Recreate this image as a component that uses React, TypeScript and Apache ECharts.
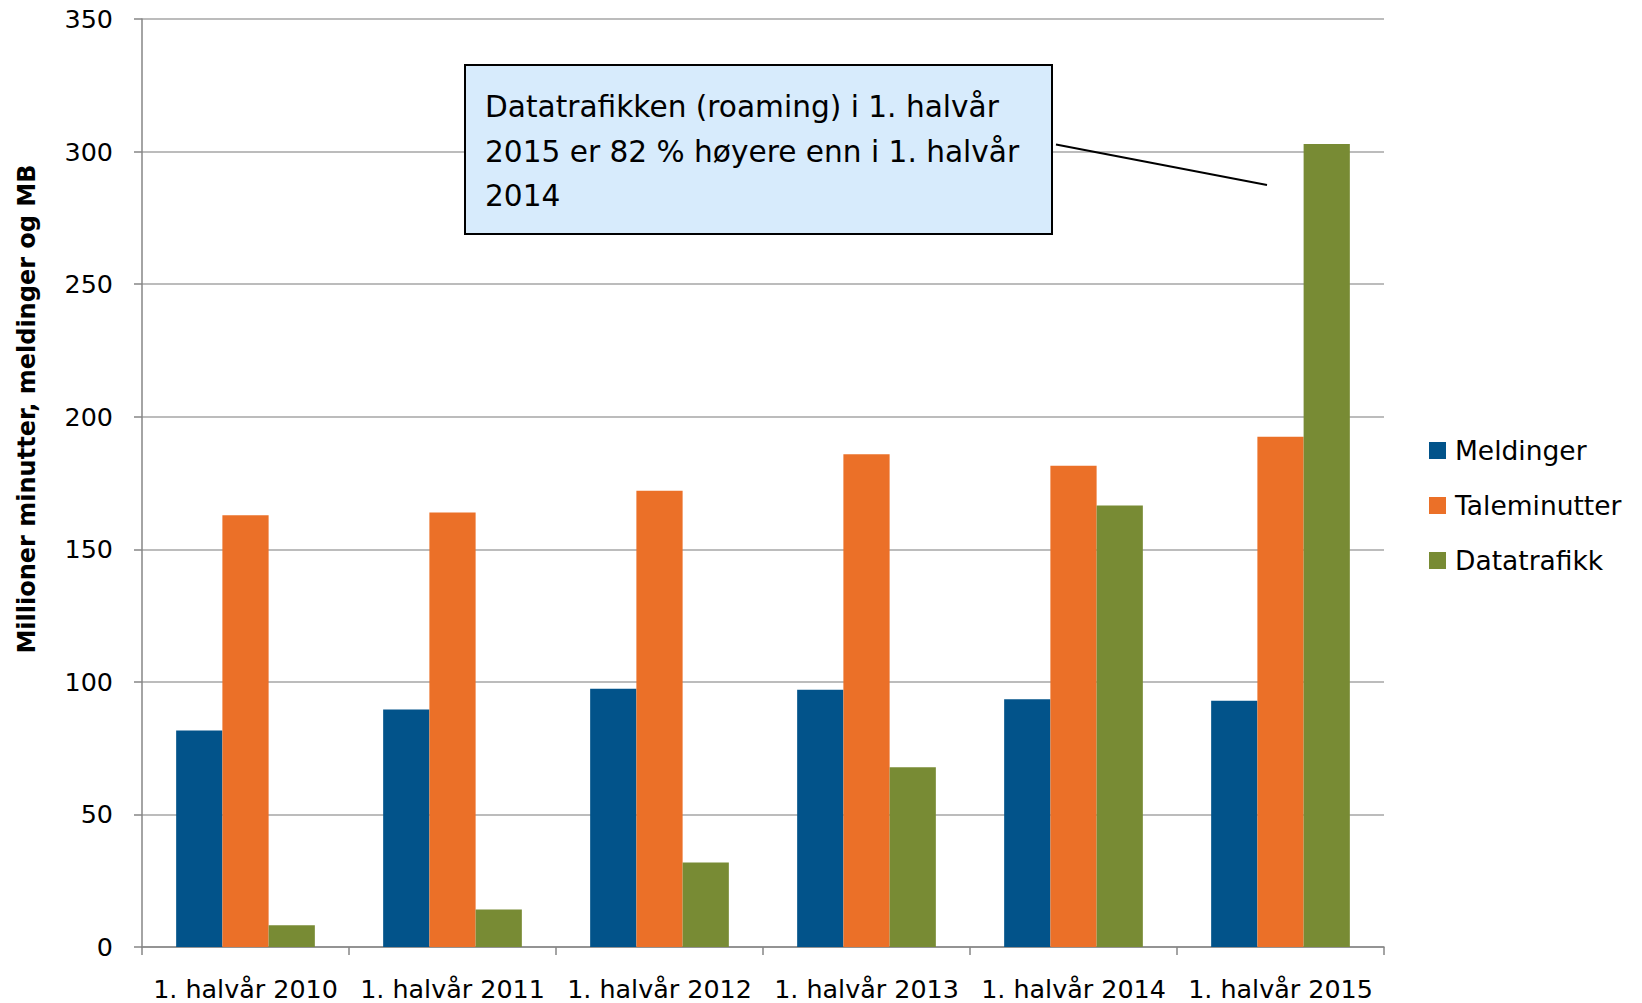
import React, { useEffect, useRef } from "react";
import * as echarts from "echarts";

const categories = [
  "1. halvår 2010",
  "1. halvår 2011",
  "1. halvår 2012",
  "1. halvår 2013",
  "1. halvår 2014",
  "1. halvår 2015",
];
const meldinger = [81.7, 89.6, 97.4, 97.0, 93.4, 92.9];
const taleminutter = [162.8, 163.9, 172.1, 185.8, 181.5, 192.4];
const datatrafikk = [8.2, 14.1, 31.9, 67.8, 166.5, 302.9];
const yTicks = { min: 0, max: 350, interval: 50 };
const yTitle = "Millioner minutter, meldinger og MB";
const annotationLines = [
  "Datatrafikken (roaming) i 1. halvår",
  "2015 er 82 % høyere enn i 1. halvår",
  "2014",
];

const FONT = "DejaVu Sans";

export default function App() {
  const ref = useRef<HTMLDivElement>(null);
  useEffect(() => {
    if (!ref.current) return;
    const chart = echarts.init(ref.current, undefined, { renderer: "svg" });
    const mkSeries = (name: string, data: number[], color: string) => ({
      name,
      type: "bar",
      data,
      barGap: "0%",
      barCategoryGap: "33%",
      itemStyle: { color },
    });
    chart.setOption({
      animation: false,
      backgroundColor: "#ffffff",
      grid: { left: 142, right: 258, top: 19, bottom: 56, containLabel: false },
      legend: {
        orient: "vertical",
        left: 1429,
        top: 437,
        padding: 0,
        itemWidth: 17,
        itemHeight: 17,
        itemGap: 28,
        icon: "rect",
        textStyle: { fontFamily: FONT, fontSize: 26.5, color: "#000", lineHeight: 26.5, padding: [0, 0, 0, 4] },
        data: ["Meldinger", "Taleminutter", "Datatrafikk"],
      },
      xAxis: {
        type: "category",
        data: categories,
        axisLine: { lineStyle: { color: "#868686", width: 1.5 } },
        axisTick: { show: true, length: 8, lineStyle: { color: "#868686", width: 1.5 } },
        axisLabel: { fontFamily: FONT, fontSize: 25.4, color: "#000", margin: 29, interval: 0 },
      },
      yAxis: {
        type: "value",
        min: yTicks.min,
        max: yTicks.max,
        interval: yTicks.interval,
        axisLine: { show: true, lineStyle: { color: "#868686", width: 1.5 } },
        axisTick: { show: true, length: 8, lineStyle: { color: "#868686", width: 1.5 } },
        axisLabel: { fontFamily: FONT, fontSize: 25.4, color: "#000", margin: 29 },
        splitLine: { lineStyle: { color: "#a6a6a6", width: 1.5 } },
      },
      series: [
        mkSeries("Meldinger", meldinger, "#02538A"),
        mkSeries("Taleminutter", taleminutter, "#EB7028"),
        mkSeries("Datatrafikk", datatrafikk, "#788B34"),
      ],
      graphic: [
        {
          type: "text",
          x: 27,
          y: 409,
          rotation: Math.PI / 2,
          style: {
            text: yTitle,
            font: `bold 24px "${FONT}"`,
            fill: "#000",
            align: "center",
            verticalAlign: "middle",
          },
        },
        {
          type: "rect",
          shape: { x: 465, y: 65, width: 587, height: 169 },
          style: { fill: "#D7EBFC", stroke: "#000", lineWidth: 2 },
          z: 100,
        },
        {
          type: "text",
          x: 485,
          y: 85,
          style: {
            text: annotationLines.join("\n"),
            font: `29.6px "${FONT}"`,
            fill: "#000",
            lineHeight: 44.5,
            verticalAlign: "top",
          },
          z: 101,
        },
        {
          type: "line",
          shape: { x1: 1056, y1: 144.5, x2: 1267, y2: 185 },
          style: { stroke: "#000", lineWidth: 2 },
          z: 100,
        },
      ],
    });
    return () => chart.dispose();
  }, []);
  return (
    <div
      ref={ref}
      style={{ position: "fixed", left: 0, top: 0, width: 1642, height: 1003 }}
    />
  );
}
